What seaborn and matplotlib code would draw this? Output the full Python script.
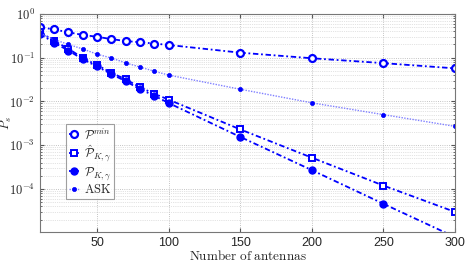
import numpy as np
import pandas as pd
import matplotlib
matplotlib.use("Agg")
import matplotlib.pyplot as plt
import matplotlib.ticker as mticker
import seaborn as sns

# Data
antennas = [10, 20, 30, 40, 50, 60, 70, 80, 90, 100, 150, 200, 250, 300]
p_min = [0.50, 0.44, 0.38, 0.33, 0.30, 0.265, 0.24, 0.225, 0.21, 0.195, 0.13, 0.097, 0.075, 0.057]
p_hat_kg = [0.39, 0.24, 0.16, 0.098, 0.068, 0.045, 0.032, 0.021, 0.015, 0.011,
            2.3e-3, 5.2e-4, 1.2e-4, 3.0e-5]
p_kg = [0.35, 0.22, 0.145, 0.092, 0.063, 0.042, 0.029, 0.019, 0.0135, 0.0092,
        1.55e-3, 2.7e-4, 4.6e-5, 8.0e-6]
p_ask = [0.36, 0.26, 0.20, 0.158, 0.12, 0.098, 0.076, 0.061, 0.049, 0.040,
         0.019, 0.0093, 0.0050, 0.0027]

series_labels = [r"$\mathcal{P}^{min}$", r"$\hat{\mathcal{P}}_{K,\gamma}$",
                 r"$\mathcal{P}_{K,\gamma}$", r"$\mathrm{ASK}$"]
x_ticks = [50, 100, 150, 200, 250, 300]

sns.set_style("ticks")
plt.rcParams.update({
    "mathtext.fontset": "cm",
    "font.family": ["Liberation Sans", "DejaVu Sans"],
    "font.size": 8,
})

fig = plt.figure(figsize=(4.69, 2.62), dpi=100)
ax = fig.add_axes([0.085, 0.115, 0.885, 0.832])

blue = "#0000ff"
dashdot = (0, (3, 1.5, 1, 1.5))
styles = [
    dict(marker="o", markersize=5, markerfacecolor="white", markeredgewidth=1.6,
         linestyle=dashdot, linewidth=1.3, color=blue),
    dict(marker="s", markersize=4.5, markerfacecolor="white", markeredgewidth=1.4,
         linestyle=dashdot, linewidth=1.3, color=blue),
    dict(marker="o", markersize=5, markerfacecolor=blue, markeredgewidth=1.0,
         linestyle=dashdot, linewidth=1.3, color=blue),
    dict(marker="o", markersize=3, markerfacecolor=blue, markeredgewidth=0.5,
         linestyle=(0, (1, 1)), linewidth=1.0, color="#7f7fff"),
]
all_series = [p_min, p_hat_kg, p_kg, p_ask]

for vals, lab, st in zip(all_series, series_labels, styles):
    df = pd.DataFrame({"N": antennas, "P": vals})
    sns.lineplot(data=df, x="N", y="P", ax=ax, label=lab, markeredgecolor=blue, **st)

ax.set_yscale("log")
ax.set_xlim(10, 300)
ax.set_ylim(1.05e-5, 1)
ax.set_xticks(x_ticks)
ax.yaxis.set_major_locator(mticker.LogLocator(base=10, numticks=10))
ax.yaxis.set_minor_locator(mticker.LogLocator(base=10, subs=np.arange(2, 10), numticks=20))
ax.yaxis.set_minor_formatter(mticker.NullFormatter())


def _fmt(v, pos):
    e = int(round(np.log10(v)))
    return r"$\mathsf{10^{%d}}$" % e


ax.yaxis.set_major_formatter(mticker.FuncFormatter(_fmt))
ax.tick_params(axis="both", which="both", direction="in", top=True, right=True,
               labelsize=9, color="#555555")
ax.tick_params(axis="both", which="major", length=3)
ax.tick_params(axis="y", which="minor", length=1.5)

ax.grid(True, which="major", axis="both", linestyle=":", color="#b0b0b0", linewidth=0.6)
ax.grid(True, which="minor", axis="y", linestyle=":", color="#c8c8c8", linewidth=0.5)
for sp in ax.spines.values():
    sp.set_color("#777777")
    sp.set_linewidth(0.8)

ax.set_xlabel(r"$\mathrm{Number\ of\ antennas}$", fontsize=9.5, labelpad=0)
ax.set_ylabel(r"$P_s$", fontsize=9)
ax.yaxis.set_label_coords(-0.062, 0.5)

leg = ax.legend(loc="lower left", bbox_to_anchor=(0.062, 0.15), fontsize=9,
                frameon=True, fancybox=False, handlelength=0.9, handletextpad=0.3,
                borderpad=0.25, labelspacing=0.1, borderaxespad=0)
leg.get_frame().set_edgecolor("#888888")
leg.get_frame().set_linewidth(0.8)

fig.savefig("out.png", dpi=100)
